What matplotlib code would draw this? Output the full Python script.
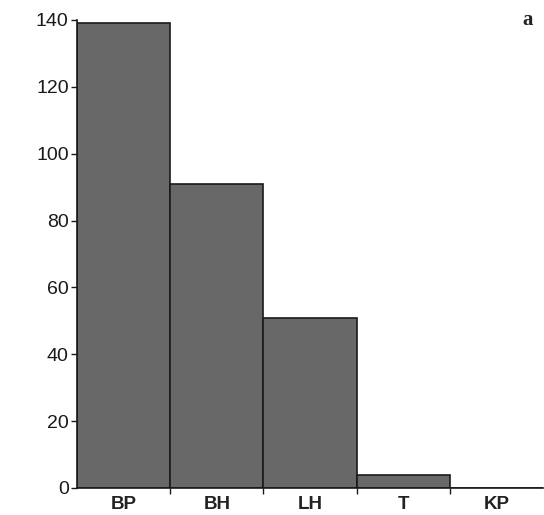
import matplotlib
matplotlib.use('Agg')
import matplotlib.pyplot as plt
import numpy as np

categories = ['BP', 'BH', 'LH', 'T', 'KP']
values = [139, 91, 51, 4, 0]
y_ticks = [0, 20, 40, 60, 80, 100, 120, 140]

C_BAR = '#686868'
C_LINE = '#1a1a1a'

plt.rcParams['font.family'] = ['Liberation Sans', 'DejaVu Sans']

fig = plt.figure(figsize=(5.44, 5.15), dpi=100)
fig.patch.set_facecolor('white')
ax = fig.add_axes([77 / 544, 1 - 488 / 515, 466 / 544, 468 / 515])

x = np.arange(len(categories)) + 0.5
ax.bar(x, values, width=1.0, color=C_BAR, edgecolor=C_LINE, linewidth=1.2)

ax.set_xlim(0, len(categories))
ax.set_ylim(0, 140)

ax.set_xticks(x)
ax.set_xticklabels(categories, fontsize=13.5, fontweight='bold', color='#222222')
ax.set_xticks(np.arange(1, len(categories)), minor=True)
ax.tick_params(axis='x', which='major', length=0, pad=6)
ax.tick_params(axis='x', which='minor', length=4, width=1, color=C_LINE, direction='out')

ax.set_yticks(y_ticks)
ax.tick_params(axis='y', length=4, width=1, color=C_LINE, pad=2,
               labelsize=14, labelcolor='#1a1a1a')

for s in ['top', 'right']:
    ax.spines[s].set_visible(False)
for s in ['left', 'bottom']:
    ax.spines[s].set_color(C_LINE)
    ax.spines[s].set_linewidth(1.2)

fig.text(528 / 544, 1 - 20 / 515, 'a', family=['Liberation Serif', 'DejaVu Serif'],
         fontsize=15, fontweight='bold', ha='center', va='center', color='#222222')

fig.savefig('out.png', dpi=100, facecolor='white')
